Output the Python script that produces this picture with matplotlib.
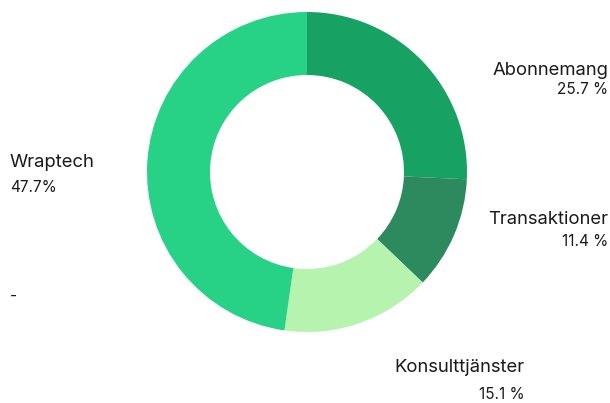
import matplotlib
matplotlib.use("Agg")
import matplotlib.pyplot as plt

categories = ["Abonnemang", "Transaktioner", "Konsulttjänster", "Wraptech"]
values = [25.7, 11.4, 15.1, 47.7]
pct_labels = ["25.7 %", "11.4 %", "15.1 %", "47.7%"]
colors = ["#17a263", "#2d8a5e", "#b6f3ae", "#27d186"]

W, H = 610, 403
fig = plt.figure(figsize=(W / 100, H / 100), dpi=100)
ax = fig.add_axes([0, 0, 1, 1])

ax.pie(values, colors=colors, startangle=90, counterclock=False,
       center=(307, H - 172), radius=160,
       wedgeprops=dict(width=63, linewidth=0))
ax.set_xlim(0, W)
ax.set_ylim(0, H)
ax.set_aspect("equal")
ax.axis("off")

font = "Inter"
tc = "#1a1a1a"
# label placements (x, y_baseline_label, y_baseline_pct, ha)
pos = [
    (608, 75, 94, "right"),
    (608, 224, 246, "right"),
    (525, 372, 399, "right"),
    (10, 167, 192, "left"),
]
for cat, pl, (x, y1, y2, ha) in zip(categories, pct_labels, pos):
    ax.text(x, H - y1, cat, ha=ha, va="baseline", fontsize=13.3,
            family=font, color=tc)
    ax.text(x, H - y2, pl, ha=ha, va="baseline", fontsize=11,
            family=font, color=tc)

ax.text(10, H - 301, "-", ha="left", va="baseline", fontsize=11,
        family=font, color=tc)

fig.savefig("out.png", dpi=100)
